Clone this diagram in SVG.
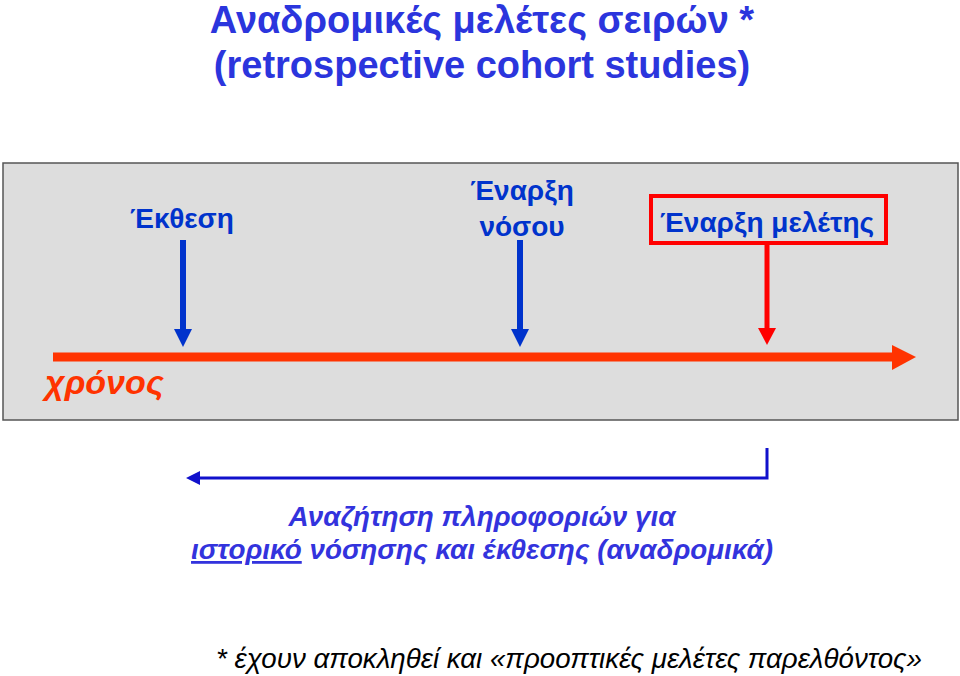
<svg xmlns="http://www.w3.org/2000/svg" width="960" height="676" viewBox="0 0 960 676">
<style>
.t{font-family:"Liberation Sans",Arial,sans-serif;}
.title{font-size:38px;font-weight:bold;fill:#2b35dd;}
.lbl{font-size:28px;font-weight:bold;fill:#0033cc;}
.q{font-size:27.8px;font-style:italic;font-weight:bold;fill:#3333dd;}
.foot{font-size:27px;font-style:italic;fill:#000;}
</style>
<rect width="960" height="676" fill="#fff"/>
<g id="title" class="t">
<text class="title" x="482" y="33" text-anchor="middle">Αναδρομικές μελέτες σειρών *</text>
<text class="title" x="482" y="78" text-anchor="middle">(retrospective cohort studies)</text>
</g>
<rect id="panel" x="3" y="163" width="955" height="257" fill="#dddddd" stroke="#555" stroke-width="1.5"/>
<g id="connectors">
<line x1="53" y1="357" x2="894" y2="357" stroke="#ff3300" stroke-width="9"/>
<path d="M892,345L916,357L892,370z" fill="#ff3300"/>
<line x1="183" y1="240" x2="183" y2="330" stroke="#0033cc" stroke-width="6"/>
<path d="M174,329L192,329L183,347z" fill="#0033cc"/>
<line x1="520" y1="240" x2="520" y2="330" stroke="#0033cc" stroke-width="6"/>
<path d="M511,329L529,329L520,347z" fill="#0033cc"/>
<line x1="767" y1="245" x2="767" y2="330" stroke="#ff0000" stroke-width="5"/>
<path d="M758,328L776,328L767,345z" fill="#ff0000"/>
<path d="M767,448L767,478L198,478" fill="none" stroke="#1111cc" stroke-width="3"/>
<path d="M200,471L186,478L200,485z" fill="#1111cc"/>
</g>
<g id="node-exposure" class="t"><text class="lbl" x="182" y="228" text-anchor="middle">Έκθεση</text></g>
<g id="node-disease" class="t">
<text class="lbl" x="522" y="200" text-anchor="middle">Έναρξη</text>
<text class="lbl" x="522" y="236" text-anchor="middle">νόσου</text>
</g>
<g id="node-study" class="t">
<rect x="651" y="196" width="235" height="47" fill="none" stroke="#ff0000" stroke-width="4"/>
<text class="lbl" x="767" y="232" text-anchor="middle">Έναρξη μελέτης</text>
</g>
<g id="node-time" class="t"><text x="45" y="394" font-size="34" font-style="italic" font-weight="bold" fill="#ff3300">χρόνος</text></g>
<g id="node-search" class="t">
<text class="q" x="482" y="526" text-anchor="middle">Αναζήτηση πληροφοριών για</text>
<text class="q" x="482" y="559" text-anchor="middle"><tspan text-decoration="underline">ιστορικό</tspan> νόσησης και έκθεσης (αναδρομικά)</text>
</g>
<g id="footnote" class="t"><text class="foot" x="216" y="668" textLength="706" lengthAdjust="spacingAndGlyphs">* έχουν αποκληθεί και «προοπτικές μελέτες παρελθόντος»</text></g>
</svg>
